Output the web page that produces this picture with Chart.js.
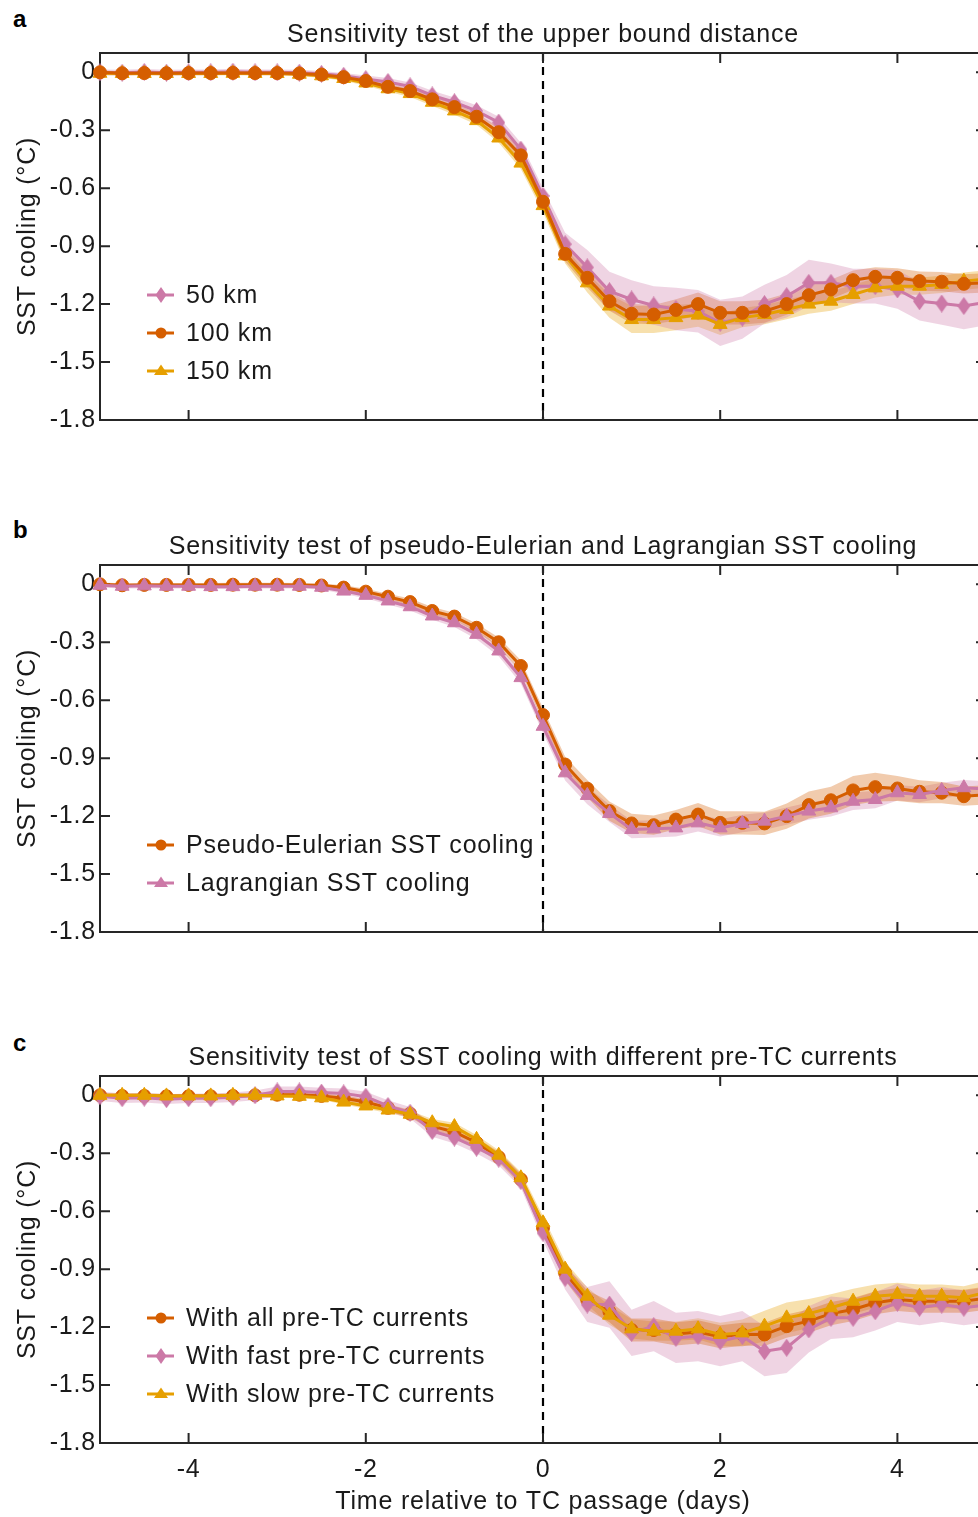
<!DOCTYPE html>
<html>
<head>
<meta charset="utf-8">
<script src="https://cdn.jsdelivr.net/npm/chart.js@4.4.1/dist/chart.umd.min.js"></script>
<style>
  html, body { margin: 0; padding: 0; background: #fff; overflow: hidden; }
  body { width: 978px; height: 1517px; position: relative; }
  canvas { position: absolute; left: 0; }
  .letter { position: absolute; left: 13px; font: bold 24px "Liberation Sans", Arial, sans-serif; line-height: 24px; color: #000; }
</style>
</head>
<body>
<div class="letter" style="top:7px">a</div>
<div class="letter" style="top:518px">b</div>
<div class="letter" style="top:1031px">c</div>
<canvas id="panelA" width="1000" height="460" style="top:0"></canvas>
<canvas id="panelB" width="1000" height="460" style="top:512px"></canvas>
<canvas id="panelC" width="1000" height="494" style="top:1023px"></canvas>
<script>
// Time axis (days relative to TC passage)
const days = [-5, -4.75, -4.5, -4.25, -4, -3.75, -3.5, -3.25, -3, -2.75, -2.5, -2.25, -2, -1.75, -1.5, -1.25, -1, -0.75, -0.5, -0.25,
  0, 0.25, 0.5, 0.75, 1, 1.25, 1.5, 1.75, 2, 2.25, 2.5, 2.75, 3, 3.25, 3.5, 3.75, 4, 4.25, 4.5, 4.75, 5];
const xTicks = [-4, -2, 0, 2, 4];
const xTickLabels = ['-4', '-2', '0', '2', '4'];
const yTicks = [0, -0.3, -0.6, -0.9, -1.2, -1.5, -1.8];
const yTickLabels = ['0', '-0.3', '-0.6', '-0.9', '-1.2', '-1.5', '-1.8'];

// Panel a : upper bound distance
const aKm50 = [0, -0.002, 0.002, -0.002, 0, 0, 0.003, 0, 0, -0.002, -0.008, -0.018, -0.035, -0.05, -0.073, -0.12, -0.155, -0.2, -0.26, -0.4,
  -0.64, -0.89, -1.01, -1.133, -1.176, -1.207, -1.225, -1.237, -1.297, -1.27, -1.2, -1.159, -1.09, -1.09, -1.107, -1.107, -1.124, -1.185, -1.197, -1.21, -1.19];
const aKm50Spread = [0.015, 0.015, 0.015, 0.015, 0.015, 0.015, 0.015, 0.015, 0.015, 0.015, 0.015, 0.015, 0.018, 0.02, 0.02, 0.025, 0.025, 0.03, 0.03, 0.035,
  0.04, 0.06, 0.09, 0.1, 0.1, 0.1, 0.11, 0.11, 0.12, 0.11, 0.1, 0.11, 0.12, 0.1, 0.09, 0.09, 0.1, 0.1, 0.11, 0.12, 0.12];
const aKm100 = [0, -0.005, -0.004, -0.005, -0.004, -0.004, -0.003, -0.004, -0.004, -0.006, -0.012, -0.025, -0.045, -0.075, -0.097, -0.14, -0.18, -0.23, -0.31, -0.43,
  -0.67, -0.94, -1.064, -1.185, -1.25, -1.254, -1.23, -1.2, -1.245, -1.245, -1.237, -1.2, -1.154, -1.124, -1.076, -1.059, -1.064, -1.081, -1.084, -1.095, -1.09];
const aKm100Spread = [0.01, 0.01, 0.01, 0.01, 0.01, 0.01, 0.01, 0.01, 0.01, 0.01, 0.01, 0.01, 0.012, 0.015, 0.015, 0.018, 0.02, 0.02, 0.025, 0.03,
  0.035, 0.04, 0.05, 0.05, 0.05, 0.05, 0.055, 0.06, 0.06, 0.06, 0.06, 0.055, 0.05, 0.05, 0.05, 0.05, 0.05, 0.05, 0.05, 0.05, 0.05];
const aKm150 = [-0.005, -0.006, -0.006, -0.006, -0.006, -0.006, -0.005, -0.006, -0.006, -0.01, -0.018, -0.032, -0.055, -0.085, -0.11, -0.155, -0.2, -0.25, -0.34, -0.47,
  -0.69, -0.95, -1.09, -1.21, -1.28, -1.28, -1.27, -1.257, -1.305, -1.27, -1.254, -1.228, -1.2, -1.185, -1.15, -1.116, -1.107, -1.107, -1.098, -1.081, -1.07];
const aKm150Spread = [0.01, 0.01, 0.01, 0.01, 0.01, 0.01, 0.01, 0.01, 0.01, 0.01, 0.01, 0.012, 0.015, 0.015, 0.018, 0.02, 0.02, 0.022, 0.025, 0.03,
  0.035, 0.04, 0.05, 0.06, 0.07, 0.07, 0.065, 0.06, 0.055, 0.05, 0.05, 0.05, 0.05, 0.05, 0.05, 0.05, 0.045, 0.045, 0.045, 0.045, 0.045];

// Panel b : pseudo-Eulerian vs Lagrangian
const bEuler = [0, -0.005, -0.003, -0.003, -0.003, -0.003, -0.002, -0.002, -0.002, -0.003, -0.006, -0.017, -0.038, -0.064, -0.092, -0.138, -0.167, -0.225, -0.3, -0.423,
  -0.677, -0.933, -1.058, -1.174, -1.238, -1.247, -1.218, -1.192, -1.235, -1.235, -1.238, -1.2, -1.143, -1.118, -1.067, -1.05, -1.057, -1.074, -1.079, -1.097, -1.09];
const bEulerSpread = [0.01, 0.01, 0.01, 0.01, 0.01, 0.01, 0.01, 0.01, 0.01, 0.01, 0.01, 0.012, 0.015, 0.015, 0.018, 0.02, 0.02, 0.022, 0.025, 0.03,
  0.035, 0.04, 0.045, 0.05, 0.05, 0.05, 0.05, 0.06, 0.06, 0.06, 0.06, 0.065, 0.07, 0.07, 0.075, 0.075, 0.065, 0.06, 0.055, 0.05, 0.05];
const bLagr = [-0.005, -0.01, -0.008, -0.01, -0.01, -0.012, -0.012, -0.01, -0.01, -0.01, -0.015, -0.035, -0.057, -0.086, -0.116, -0.164, -0.199, -0.259, -0.345, -0.483,
  -0.735, -0.976, -1.093, -1.186, -1.269, -1.266, -1.261, -1.235, -1.261, -1.238, -1.226, -1.2, -1.174, -1.157, -1.123, -1.114, -1.079, -1.088, -1.067, -1.053, -1.06];
const bLagrSpread = [0.012, 0.012, 0.012, 0.012, 0.012, 0.012, 0.012, 0.012, 0.012, 0.012, 0.012, 0.015, 0.015, 0.018, 0.02, 0.02, 0.022, 0.025, 0.028, 0.03,
  0.035, 0.04, 0.045, 0.045, 0.045, 0.045, 0.045, 0.045, 0.045, 0.045, 0.045, 0.045, 0.045, 0.045, 0.045, 0.045, 0.04, 0.04, 0.04, 0.04, 0.04];

// Panel c : pre-TC currents
const cAll = [0, -0.003, -0.003, -0.005, -0.005, -0.005, -0.003, 0, 0.003, 0.003, -0.003, -0.015, -0.035, -0.065, -0.095, -0.16, -0.19, -0.245, -0.32, -0.435,
  -0.685, -0.92, -1.06, -1.12, -1.215, -1.215, -1.235, -1.225, -1.25, -1.237, -1.238, -1.195, -1.169, -1.13, -1.109, -1.074, -1.057, -1.066, -1.066, -1.066, -1.05];
const cAllSpread = [0.012, 0.012, 0.012, 0.012, 0.012, 0.012, 0.012, 0.012, 0.012, 0.012, 0.012, 0.015, 0.015, 0.018, 0.02, 0.02, 0.022, 0.025, 0.028, 0.03,
  0.035, 0.04, 0.05, 0.055, 0.06, 0.06, 0.06, 0.06, 0.06, 0.06, 0.06, 0.06, 0.06, 0.06, 0.06, 0.06, 0.06, 0.06, 0.06, 0.06, 0.06];
const cFast = [-0.005, -0.015, -0.012, -0.02, -0.015, -0.015, -0.01, 0, 0.02, 0.02, 0.014, 0.01, -0.007, -0.055, -0.09, -0.185, -0.219, -0.271, -0.328, -0.444,
  -0.711, -0.945, -1.083, -1.083, -1.23, -1.195, -1.256, -1.247, -1.273, -1.247, -1.325, -1.307, -1.212, -1.152, -1.152, -1.118, -1.074, -1.1, -1.083, -1.1, -1.085];
const cFastSpread = [0.025, 0.025, 0.025, 0.025, 0.025, 0.025, 0.025, 0.025, 0.025, 0.025, 0.025, 0.025, 0.025, 0.03, 0.03, 0.03, 0.03, 0.03, 0.035, 0.035,
  0.04, 0.06, 0.09, 0.12, 0.12, 0.13, 0.13, 0.13, 0.13, 0.13, 0.13, 0.13, 0.12, 0.11, 0.1, 0.1, 0.1, 0.09, 0.09, 0.09, 0.09];
const cSlow = [0, 0, 0, -0.003, -0.003, -0.003, 0, 0, -0.003, -0.005, -0.013, -0.035, -0.055, -0.076, -0.098, -0.142, -0.162, -0.228, -0.31, -0.427,
  -0.66, -0.9, -1.04, -1.138, -1.209, -1.221, -1.221, -1.209, -1.238, -1.23, -1.195, -1.152, -1.13, -1.1, -1.066, -1.04, -1.031, -1.04, -1.04, -1.048, -1.02];
const cSlowSpread = [0.01, 0.01, 0.01, 0.01, 0.01, 0.01, 0.01, 0.01, 0.01, 0.01, 0.01, 0.012, 0.015, 0.015, 0.018, 0.02, 0.02, 0.022, 0.025, 0.03,
  0.035, 0.04, 0.045, 0.05, 0.05, 0.05, 0.05, 0.055, 0.06, 0.07, 0.08, 0.08, 0.075, 0.07, 0.065, 0.06, 0.06, 0.06, 0.06, 0.06, 0.06];

const ORANGE = '#D55E00';
const PINK = '#CC79A7';
const YELLOW = '#E69F00';
const INK = '#1a1a1a';
const FONT = '"Liberation Sans", Arial, Helvetica, sans-serif';
const FONT_SIZE = 25;

Chart.defaults.font.family = FONT;
Chart.defaults.font.size = FONT_SIZE;
Chart.defaults.color = INK;

function alpha(hex, a) {
  const n = parseInt(hex.slice(1), 16);
  return `rgba(${n >> 16}, ${(n >> 8) & 255}, ${n & 255}, ${a})`;
}

// tall diamond, like the matlab 'd' marker
function diamond(w, h, color) {
  const c = document.createElement('canvas');
  c.width = w; c.height = h;
  const g = c.getContext('2d');
  g.fillStyle = color;
  g.beginPath();
  g.moveTo(w / 2, 0); g.lineTo(w, h / 2); g.lineTo(w / 2, h); g.lineTo(0, h / 2);
  g.closePath(); g.fill();
  return c;
}

function markerStyle(kind, color) {
  if (kind === 'diamond') return { pointStyle: diamond(13, 18, color), pointRadius: 8 };
  if (kind === 'triangle') return { pointStyle: 'triangle', pointRadius: 8 };
  return { pointStyle: 'circle', pointRadius: 6.5 };
}

// legend marker drawn by hand (smaller than plot markers)
function drawLegendMarker(ctx, kind, x, y, color) {
  ctx.fillStyle = color;
  ctx.beginPath();
  if (kind === 'circle') {
    ctx.arc(x, y, 5.5, 0, Math.PI * 2);
  } else if (kind === 'triangle') {
    ctx.moveTo(x, y - 6.5); ctx.lineTo(x + 7, y + 4); ctx.lineTo(x - 7, y + 4); ctx.closePath();
  } else {
    ctx.moveTo(x, y - 8); ctx.lineTo(x + 5.5, y); ctx.lineTo(x, y + 8); ctx.lineTo(x - 5.5, y); ctx.closePath();
  }
  ctx.fill();
}

const panelPlugin = {
  id: 'panel',
  beforeDraw(chart) {
    chart.ctx.letterSpacing = '0.8px';
  },
  beforeDatasetsDraw(chart) {
    const { ctx, chartArea: a, scales: { x, y } } = chart;
    ctx.save();
    // dashed line at TC passage
    const x0 = x.getPixelForValue(0);
    ctx.strokeStyle = '#000';
    ctx.lineWidth = 2.2;
    ctx.setLineDash([8, 6]);
    ctx.beginPath(); ctx.moveTo(x0, a.top); ctx.lineTo(x0, a.bottom); ctx.stroke();
    ctx.setLineDash([]);
    // box with inward ticks
    ctx.strokeStyle = '#262626';
    ctx.lineWidth = 2;
    ctx.strokeRect(a.left, a.top, a.right - a.left, a.bottom - a.top);
    ctx.beginPath();
    xTicks.forEach(v => {
      const px = x.getPixelForValue(v);
      ctx.moveTo(px, a.bottom); ctx.lineTo(px, a.bottom - 10);
      ctx.moveTo(px, a.top); ctx.lineTo(px, a.top + 10);
    });
    yTicks.forEach(v => {
      const py = y.getPixelForValue(v);
      ctx.moveTo(a.left, py); ctx.lineTo(a.left + 10, py);
      ctx.moveTo(a.right, py); ctx.lineTo(a.right - 10, py);
    });
    ctx.stroke();
    ctx.restore();
  },
  afterDraw(chart, args, opts) {
    const { ctx, chartArea: a } = chart;
    ctx.save();
    ctx.fillStyle = INK;
    ctx.font = `${FONT_SIZE}px ${FONT}`;
    ctx.textBaseline = 'middle';
    ctx.textAlign = 'center';
    ctx.fillText(opts.title, (a.left + a.right) / 2, a.top - 18);
    // legend inside the axes, lower left
    const n = opts.legend.length;
    ctx.textAlign = 'left';
    opts.legend.forEach((it, i) => {
      const yy = a.bottom - 49 - (n - 1 - i) * 38;
      ctx.strokeStyle = it.color;
      ctx.lineWidth = 3;
      ctx.beginPath(); ctx.moveTo(a.left + 47, yy); ctx.lineTo(a.left + 74, yy); ctx.stroke();
      drawLegendMarker(ctx, it.marker, a.left + 61, yy, it.color);
      ctx.fillStyle = INK;
      ctx.fillText(it.label, a.left + 86, yy + 1);
    });
    ctx.restore();
  }
};

function buildDatasets(series) {
  const sets = [];
  series.forEach(s => {
    const upper = days.map((d, i) => ({ x: d, y: s.values[i] + s.spread[i] }));
    const lower = days.map((d, i) => ({ x: d, y: s.values[i] - s.spread[i] }));
    sets.push({ data: upper, borderColor: 'transparent', borderWidth: 0, pointRadius: 0, fill: false, order: 20 });
    sets.push({ data: lower, borderColor: 'transparent', borderWidth: 0, pointRadius: 0, fill: '-1',
      backgroundColor: alpha(s.color, 0.32), order: 20 });
  });
  series.forEach(s => {
    const m = markerStyle(s.marker, s.color);
    sets.push({
      label: s.label,
      data: days.map((d, i) => ({ x: d, y: s.values[i] })),
      borderColor: s.color,
      backgroundColor: s.color,
      borderWidth: 3,
      pointBackgroundColor: s.color,
      pointBorderColor: s.color,
      pointBorderWidth: 1,
      pointStyle: m.pointStyle,
      pointRadius: m.pointRadius,
      fill: false,
      clip: 12,
      order: s.order
    });
  });
  return sets;
}

function makePanel(id, title, series, withXLabels) {
  const ctx = document.getElementById(id).getContext('2d');
  const xHeight = withXLabels ? 74 : 40;
  return new Chart(ctx, {
    type: 'line',
    data: { datasets: buildDatasets(series) },
    options: {
      responsive: false,
      animation: false,
      devicePixelRatio: 1,
      layout: { padding: { top: 53, left: 0, right: 14, bottom: 0 } },
      plugins: {
        legend: { display: false },
        tooltip: { enabled: false },
        filler: { drawTime: 'beforeDatasetsDraw' },
        panel: {
          title: title,
          legend: series.map(s => ({ label: s.label, color: s.color, marker: s.marker }))
        }
      },
      elements: { line: { tension: 0 } },
      scales: {
        x: {
          type: 'linear',
          min: -5,
          max: 5,
          afterBuildTicks: scale => { scale.ticks = xTicks.map(v => ({ value: v })); },
          afterFit: scale => { scale.height = xHeight; },
          grid: { display: false, drawTicks: false },
          border: { display: false },
          ticks: {
            display: withXLabels,
            padding: 12,
            maxRotation: 0,
            callback: v => xTickLabels[xTicks.indexOf(v)]
          },
          title: {
            display: withXLabels,
            text: 'Time relative to TC passage (days)',
            padding: { top: 0, bottom: 0 }
          }
        },
        y: {
          min: -1.8,
          max: 0.1,
          afterBuildTicks: scale => { scale.ticks = yTicks.map(v => ({ value: v })); },
          afterFit: scale => { scale.width = 100; },
          grid: { display: false, drawTicks: false },
          border: { display: false },
          ticks: {
            padding: 4,
            callback: v => yTickLabels[yTicks.indexOf(v)]
          },
          title: {
            display: true,
            text: 'SST cooling (°C)',
            padding: { top: 13, bottom: 0 }
          }
        }
      }
    },
    plugins: [panelPlugin]
  });
}

makePanel('panelA', 'Sensitivity test of the upper bound distance', [
  { label: '50 km', values: aKm50, spread: aKm50Spread, color: PINK, marker: 'diamond', order: 3 },
  { label: '100 km', values: aKm100, spread: aKm100Spread, color: ORANGE, marker: 'circle', order: 1 },
  { label: '150 km', values: aKm150, spread: aKm150Spread, color: YELLOW, marker: 'triangle', order: 2 }
], false);

makePanel('panelB', 'Sensitivity test of pseudo-Eulerian and Lagrangian SST cooling', [
  { label: 'Pseudo-Eulerian SST cooling', values: bEuler, spread: bEulerSpread, color: ORANGE, marker: 'circle', order: 2 },
  { label: 'Lagrangian SST cooling', values: bLagr, spread: bLagrSpread, color: PINK, marker: 'triangle', order: 1 }
], false);

makePanel('panelC', 'Sensitivity test of SST cooling with different pre-TC currents', [
  { label: 'With all pre-TC currents', values: cAll, spread: cAllSpread, color: ORANGE, marker: 'circle', order: 3 },
  { label: 'With fast pre-TC currents', values: cFast, spread: cFastSpread, color: PINK, marker: 'diamond', order: 2 },
  { label: 'With slow pre-TC currents', values: cSlow, spread: cSlowSpread, color: YELLOW, marker: 'triangle', order: 1 }
], true);
</script>
</body>
</html>
